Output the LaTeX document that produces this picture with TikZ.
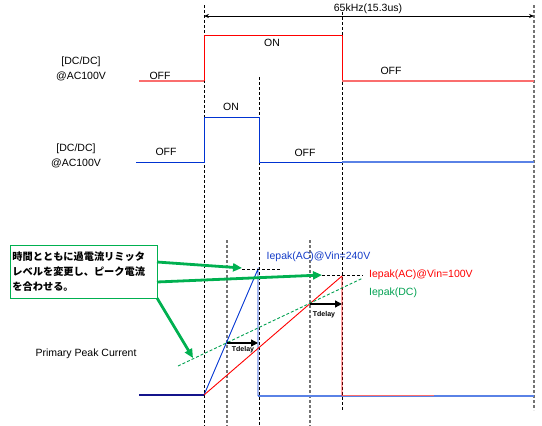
\documentclass[tikz,border=0pt]{standalone}
\usepackage{fontspec}
\setmainfont{Liberation Sans}
\newfontfamily\cjk{Noto Sans CJK JP}
\usetikzlibrary{arrows.meta}
\definecolor{sigred}{RGB}{255,0,0}
\definecolor{sigredl}{RGB}{250,110,110}
\definecolor{sigblue}{RGB}{0,51,210}
\definecolor{sigbluel}{RGB}{90,130,230}
\definecolor{navy}{RGB}{20,20,140}
\definecolor{callgreen}{RGB}{0,176,80}
\definecolor{dcgreen}{RGB}{0,160,80}
\definecolor{lblblue}{RGB}{20,60,200}
\begin{document}
\begin{tikzpicture}[x=1pt,y=-1pt,
  lbl/.style={font=\fontsize{10.5}{12}\selectfont, inner sep=0pt},
  small/.style={font=\bfseries\fontsize{7}{8}\selectfont, inner sep=0pt},
  blk/.style={black, dash pattern=on 3pt off 2pt, line width=0.7pt},
  gry/.style={black!55, dash pattern=on 3pt off 2pt, line width=1.6pt},
  redw/.style={sigred, line width=0.9pt},
  redl/.style={sigredl, line width=1.2pt},
  bluew/.style={sigblue, line width=1pt},
  bluel/.style={sigbluel, line width=1.6pt},
  garrow/.style={callgreen, line width=2.8pt, -{Triangle[length=9pt,width=8pt]}},
  tarrow/.style={black, line width=1.3pt, -{Triangle[length=7pt,width=7pt]}},
  dimarrow/.style={black, line width=0.7pt, {Stealth[length=5pt,width=4pt]}-{Stealth[length=5pt,width=4pt]}}
]
\useasboundingbox (0,0) rectangle (542,426);

% vertical timing lines
\draw[blk] (204,5) -- (204,426);
\draw[blk] (259,77) -- (259,426);
\draw[blk] (342,12) -- (342,410);
\draw[gry] (534,5) -- (534,410);
\draw[gry] (227,240) -- (227,426);
\draw[gry] (310,240) -- (310,426);

% period arrow
\coordinate (pl) at (204,16);
\coordinate (pr) at (534,16);
\draw[dimarrow] (pl) -- (pr);
\node[lbl] (freq) at (368,9) {65kHz(15.3us)};

% red DC/DC signal
\draw[redl] (139,81) -- (204,81);
\draw[redw] (204,81) -- (204,35) -- (342,35) -- (342,81);
\draw[redl] (342,81) -- (534,81);
\node[lbl] (n1a) at (81,62) {[DC/DC]};
\node[lbl] (n1b) at (81,76) {@AC100V};
\node[lbl] (off1) at (160,76) {OFF};
\node[lbl] (on1) at (272,43) {ON};
\node[lbl] (off2) at (391,71) {OFF};

% blue DC/DC signal
\draw[bluew] (136,162) -- (204,162) -- (204,117) -- (259,117) -- (259,162) -- (342,162);
\draw[bluel] (342,162) -- (534,162);
\node[lbl] (n2a) at (76,149) {[DC/DC]};
\node[lbl] (n2b) at (76,163) {@AC100V};
\node[lbl] (off3) at (166,152) {OFF};
\node[lbl] (on2) at (231,107) {ON};
\node[lbl] (off4) at (305,153) {OFF};

% primary peak current
\node[lbl] (ppc) at (86,354) {Primary Peak Current};
\draw[navy, line width=1.2pt] (139,395) -- (204,395);
\draw[bluel] (258,396) -- (534,396);
\draw[sigredl, line width=0.8pt] (342,395.3) -- (434,395.3);
\draw[sigblue, line width=0.9pt] (204,395) -- (258,269) -- (258,396);
\draw[sigred, line width=0.9pt] (204,395) -- (342,276) -- (342,396);
\draw[dcgreen, line width=0.9pt, dash pattern=on 3pt off 2pt] (178,366) -- (363,278);

% peak level dashes
\draw[blk] (242,269) -- (280,269);
\draw[blk] (322,275) -- (363,275);

% labels
\node[lbl, text=lblblue] (l240) at (318.5,257) {Iepak(AC)@Vin=240V};
\node[lbl, text=sigred, anchor=west] (l100) at (369,275) {Iepak(AC)@Vin=100V};
\node[lbl, text=dcgreen, anchor=west] (ldc) at (369,293) {Iepak(DC)};

% Tdelay arrows
\coordinate (t1a) at (227,343);
\coordinate (t1b) at (258,343);
\coordinate (t2a) at (310,304);
\coordinate (t2b) at (342,304);
\draw[tarrow] (t1a) -- (t1b);
\draw[tarrow] (t2a) -- (t2b);
\node[small] (td1) at (243,350) {Tdelay};
\node[small] (td2) at (324,315) {Tdelay};

% callout
\node[draw=callgreen, line width=0.9pt, anchor=north west, minimum width=147pt, minimum height=53pt,
      text width=143pt, inner sep=2pt, align=left,
      font=\cjk\bfseries\fontsize{10.2}{15}\selectfont] (call) at (10,245)
  {時間とともに過電流リミッタ\\レベルを変更し、ピーク電流\\を合わせる。};
\coordinate (g1s) at (157,262);
\coordinate (g1e) at (242,268);
\coordinate (g2s) at (157,282);
\coordinate (g2e) at (322,275);
\coordinate (g3s) at (157,298);
\coordinate (g3e) at (193,358);
\draw[garrow] (g1s) -- (g1e);
\draw[garrow] (g2s) -- (g2e);
\draw[garrow] (g3s) -- (g3e);
\end{tikzpicture}
\end{document}
